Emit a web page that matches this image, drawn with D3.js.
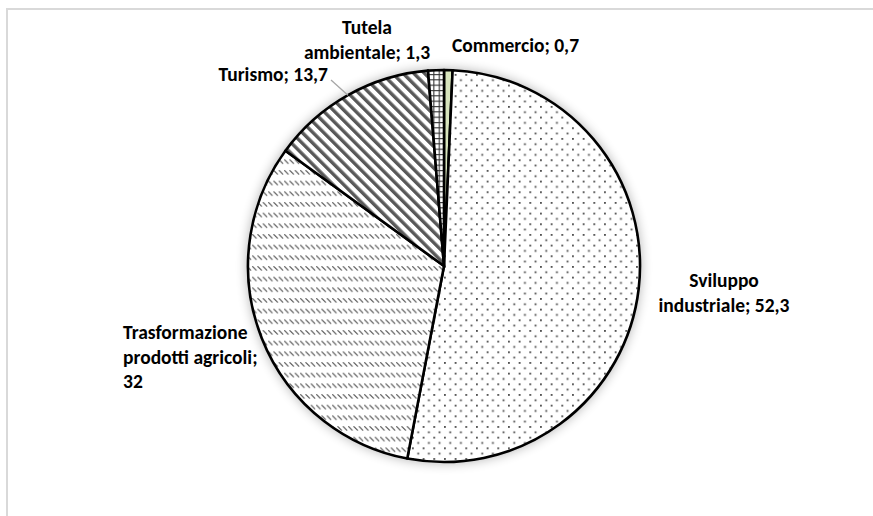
<!DOCTYPE html>
<html>
<head>
  <meta charset="utf-8">
  <script src="https://d3js.org/d3.v7.min.js"></script>
  <style>
    body { margin: 0; background: #fff; }
    .lbl { font-family: Carlito, Lato, sans-serif; font-weight: bold; font-size: 19.5px; fill: #000; }
  </style>
</head>
<body>
<div id="chart"></div>
<script>
  // data
  var categories = ["Commercio", "Sviluppo industriale", "Trasformazione prodotti agricoli", "Turismo", "Tutela ambientale"];
  var values = [0.7, 52.3, 32, 13.7, 1.3];
  var valueLabels = ["0,7", "52,3", "32", "13,7", "1,3"];
  // how each label wraps
  var labelLines = [
    ["Commercio; 0,7"],
    ["Sviluppo", "industriale; 52,3"],
    ["Trasformazione", "prodotti agricoli;", "32"],
    ["Turismo; 13,7"],
    ["Tutela", "ambientale; 1,3"]
  ];

  var width = 873, height = 516;
  var cx = 444, cy = 266, radius = 196;

  var svg = d3.select("#chart").append("svg")
    .attr("width", width).attr("height", height);

  // chart area border
  svg.append("rect")
    .attr("x", 7).attr("y", 9)
    .attr("width", width).attr("height", height)
    .attr("fill", "none").attr("stroke", "#d9d9d9").attr("stroke-width", 2);

  var defs = svg.append("defs");

  var f = defs.append("filter").attr("id", "shadow")
    .attr("x", "-20%").attr("y", "-20%").attr("width", "140%").attr("height", "140%");
  f.append("feGaussianBlur").attr("stdDeviation", 6);

  var t = 10.67; // excel 8px pattern scaled

  // dotted (Sviluppo)
  var p1 = defs.append("pattern").attr("id", "pDots").attr("patternUnits", "userSpaceOnUse")
    .attr("width", t).attr("height", t);
  p1.append("rect").attr("width", t).attr("height", t).attr("fill", "#fff");
  p1.append("rect").attr("x", 0).attr("y", 0).attr("width", 1.8).attr("height", 1.8).attr("fill", "#4d4d4d");
  p1.append("rect").attr("x", t / 2).attr("y", t / 2).attr("width", 1.8).attr("height", 1.8).attr("fill", "#4d4d4d");

  // dashed downward diagonal (Trasformazione)
  var p2 = defs.append("pattern").attr("id", "pDash").attr("patternUnits", "userSpaceOnUse")
    .attr("width", t / 2).attr("height", t);
  p2.append("rect").attr("width", t / 2).attr("height", t).attr("fill", "#fff");
  p2.append("line").attr("x1", 0.3).attr("y1", 0.3).attr("x2", t / 2 - 0.8).attr("y2", t / 2 - 0.8)
    .attr("stroke", "#555").attr("stroke-width", 1.2);

  // wide downward diagonal (Turismo)
  var s = t / Math.SQRT2;
  var p3 = defs.append("pattern").attr("id", "pStripe").attr("patternUnits", "userSpaceOnUse")
    .attr("width", s).attr("height", s).attr("patternTransform", "rotate(-45)");
  p3.append("rect").attr("width", s).attr("height", s).attr("fill", "#fff");
  p3.append("rect").attr("x", 0).attr("width", 3.4).attr("height", s).attr("fill", "#595959");

  // small grid (Tutela)
  var g4 = t / 2;
  var p4 = defs.append("pattern").attr("id", "pGrid").attr("patternUnits", "userSpaceOnUse")
    .attr("width", g4).attr("height", g4);
  p4.append("rect").attr("width", g4).attr("height", g4).attr("fill", "#fff");
  p4.append("path").attr("d", "M0.5,0V" + g4 + "M0," + 0.5 + "H" + g4)
    .attr("stroke", "#333").attr("stroke-width", 1.2);

  var fills = ["#d7e4bd", "url(#pDots)", "url(#pDash)", "url(#pStripe)", "url(#pGrid)"];

  var pie = d3.pie().sort(null).value(function(d) { return d; });
  var arc = d3.arc().innerRadius(0).outerRadius(radius);
  var edge = d3.arc().innerRadius(radius).outerRadius(radius);
  var slices = pie(values);

  var g = svg.append("g").attr("transform", "translate(" + cx + "," + cy + ")");

  // soft shadow around the pie
  g.append("circle").attr("r", radius + 1).attr("fill", "#000").attr("opacity", 0.3)
    .attr("filter", "url(#shadow)");

  g.selectAll("path.slice").data(slices).enter().append("path")
    .attr("class", "slice")
    .attr("d", arc)
    .attr("fill", function(d, i) { return fills[i]; })
    .attr("stroke", "#000").attr("stroke-width", 2.6).attr("stroke-linejoin", "round");

  // label placement (Excel best fit)
  var labelPos = [
    { x: 452, y: 52, anchor: "start" },
    { x: 724, y: 287, anchor: "middle" },
    { x: 123, y: 339, anchor: "start" },
    { x: 328, y: 81, anchor: "end" },
    { x: 367, y: 34, anchor: "middle" }
  ];
  var lineH = 24.5;

  // leader line for Turismo
  var tp = edge.centroid(slices[3]);
  svg.append("line")
    .attr("x1", labelPos[3].x + 3).attr("y1", labelPos[3].y - 1)
    .attr("x2", cx + tp[0]).attr("y2", cy + tp[1])
    .attr("stroke", "#a6a6a6").attr("stroke-width", 1.3);

  labelLines.forEach(function(lines, i) {
    var txt = svg.append("text").attr("class", "lbl")
      .attr("text-anchor", labelPos[i].anchor);
    lines.forEach(function(l, k) {
      txt.append("tspan").attr("x", labelPos[i].x).attr("y", labelPos[i].y + k * lineH).text(l);
    });
  });
</script>
</body>
</html>
